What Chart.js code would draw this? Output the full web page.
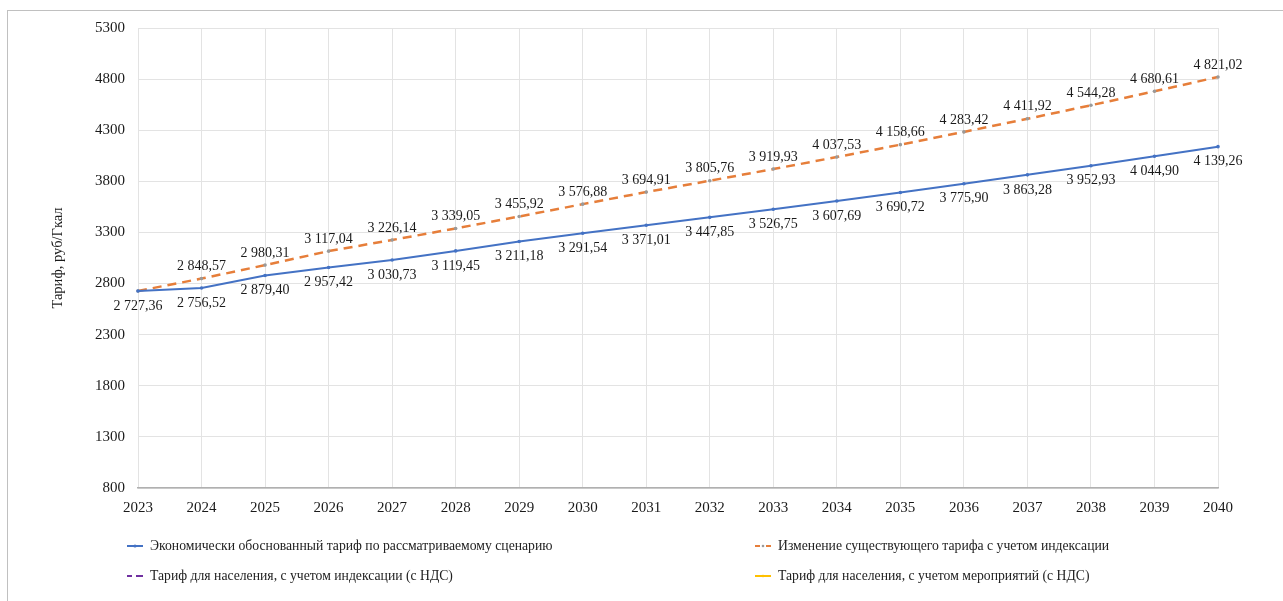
<!DOCTYPE html>
<html>
<head>
<meta charset="utf-8">
<script src="https://cdn.jsdelivr.net/npm/chart.js@4.4.1/dist/chart.umd.min.js"></script>
<style>
  html,body{margin:0;padding:0;background:#fff;}
  #wrap{position:relative;width:1283px;height:601px;overflow:hidden;}
  #frame{position:absolute;left:7px;top:10px;width:1290px;height:600px;border:1px solid #c0c0c0;box-sizing:border-box;}
  canvas{position:absolute;left:0;top:0;}
  .lg{position:absolute;font-family:"Liberation Serif","DejaVu Serif",serif;font-size:13.7px;color:#222;white-space:nowrap;line-height:16px;}
  .lg svg{position:absolute;left:-24px;top:2px;}
</style>
</head>
<body>
<div id="wrap">
  <div id="frame"></div>
  <canvas id="c" width="1283" height="601"></canvas>
  <div id="legend"></div>
</div>
<script>
const years = ['2023','2024','2025','2026','2027','2028','2029','2030','2031','2032','2033','2034','2035','2036','2037','2038','2039','2040'];
const economicTariff = [2727.36,2756.52,2879.40,2957.42,3030.73,3119.45,3211.18,3291.54,3371.01,3447.85,3526.75,3607.69,3690.72,3775.90,3863.28,3952.93,4044.90,4139.26];
const indexedTariff = [2727.36,2848.57,2980.31,3117.04,3226.14,3339.05,3455.92,3576.88,3694.91,3805.76,3919.93,4037.53,4158.66,4283.42,4411.92,4544.28,4680.61,4821.02];
const populationIndexed = [];
const populationMeasures = [];
const seriesNames = [
  'Экономически обоснованный тариф по рассматриваемому сценарию',
  'Изменение существующего тарифа с учетом индексации',
  'Тариф для населения, с учетом индексации (с НДС)',
  'Тариф для населения, с учетом мероприятий (с НДС)'
];
const yTicks = [800,1300,1800,2300,2800,3300,3800,4300,4800,5300];
const yTitle = 'Тариф, руб/Гкал';

const FONT = '"Liberation Serif","DejaVu Serif",serif';

function fmt(v){
  const s = v.toFixed(2).split('.');
  const int = s[0].replace(/\B(?=(\d{3})+(?!\d))/g,' ');
  return int + ',' + s[1];
}

const labelPlugin = {
  id:'valueLabels',
  afterDatasetsDraw(chart){
    const ctx = chart.ctx;
    ctx.save();
    ctx.font = '14px ' + FONT;
    ctx.fillStyle = '#1a1a1a';
    ctx.textAlign = 'center';
    ctx.textBaseline = 'middle';
    chart.data.datasets.forEach((ds,di)=>{
      if(!ds.showLabels) return;
      const meta = chart.getDatasetMeta(di);
      meta.data.forEach((pt,i)=>{
        if(ds.skipLabel && ds.skipLabel.includes(i)) return;
        const v = ds.data[i];
        if(v==null) return;
        const dy = ds.showLabels==='below' ? 15 : -12;
        ctx.fillText(fmt(v), pt.x, pt.y + dy);
      });
    });
    ctx.restore();
  }
};

new Chart(document.getElementById('c'),{
  type:'line',
  data:{
    labels:years,
    datasets:[
      {label:seriesNames[0],data:economicTariff,borderColor:'#4472C4',backgroundColor:'#4472C4',borderWidth:2,pointRadius:1.8,pointBackgroundColor:'#4472C4',pointBorderWidth:0,tension:0,showLabels:'below',order:1},
      {label:seriesNames[1],data:indexedTariff,borderColor:'#E67E3A',backgroundColor:'#E67E3A',borderWidth:2.5,borderDash:[9,6],pointRadius:1.8,pointBackgroundColor:'#9a9a9a',pointBorderWidth:0,tension:0,showLabels:'above',skipLabel:[0],order:2},
      {label:seriesNames[2],data:populationIndexed,borderColor:'#7030A0',borderWidth:2,borderDash:[6,5],pointRadius:0},
      {label:seriesNames[3],data:populationMeasures,borderColor:'#FFC000',borderWidth:2,pointRadius:0}
    ]
  },
  options:{
    responsive:false,
    animation:false,
    layout:{padding:{left:45,right:65,top:28,bottom:0}},
    plugins:{legend:{display:false},tooltip:{enabled:false}},
    scales:{
      x:{
        type:'category',
        offset:false,
        grid:{color:'#e3e3e3',lineWidth:1,drawTicks:false},
        border:{color:'#b0b0b0',width:1.5},
        ticks:{font:{family:FONT,size:15},color:'#1a1a1a',padding:11,maxRotation:0,autoSkip:false},
        afterFit(s){s.height = 601-488;}
      },
      y:{
        min:800,max:5300,
        afterBuildTicks(s){s.ticks = yTicks.map(v=>({value:v}));},
        grid:{color:'#e3e3e3',lineWidth:1,drawTicks:false},
        border:{display:false},
        ticks:{font:{family:FONT,size:15},color:'#1a1a1a',padding:13,callback:(v)=>String(v)},
        title:{display:true,text:yTitle,font:{family:FONT,size:14.5},color:'#1a1a1a',padding:{top:4,bottom:4}},
        afterFit(s){s.width = 138-45;}
      }
    }
  },
  plugins:[labelPlugin]
});

// HTML legend
const legendDefs = [
  {x:150,y:538,svg:'<svg width="18" height="12"><line x1="1" y1="6" x2="17" y2="6" stroke="#4472C4" stroke-width="2"/><circle cx="9" cy="6" r="1.6" fill="#4472C4"/></svg>'},
  {x:778,y:538,svg:'<svg width="18" height="12"><line x1="1" y1="6" x2="6" y2="6" stroke="#E67E3A" stroke-width="2"/><line x1="12" y1="6" x2="17" y2="6" stroke="#E67E3A" stroke-width="2"/><circle cx="9" cy="6" r="1.3" fill="#9a9a9a"/></svg>'},
  {x:150,y:568,svg:'<svg width="18" height="12"><line x1="1" y1="6" x2="6" y2="6" stroke="#7030A0" stroke-width="2"/><line x1="10" y1="6" x2="17" y2="6" stroke="#7030A0" stroke-width="2"/></svg>'},
  {x:778,y:568,svg:'<svg width="18" height="12"><line x1="1" y1="6" x2="17" y2="6" stroke="#FFC000" stroke-width="2"/><circle cx="9" cy="6" r="1.3" fill="#FFC000"/></svg>'}
];
const lg = document.getElementById('legend');
legendDefs.forEach((d,i)=>{
  const el = document.createElement('div');
  el.className='lg';
  el.style.left=d.x+'px';
  el.style.top=d.y+'px';
  el.innerHTML = d.svg;
  const t = document.createElement('span');
  t.textContent = seriesNames[i];
  el.appendChild(t);
  lg.appendChild(el);
});
</script>
</body>
</html>
